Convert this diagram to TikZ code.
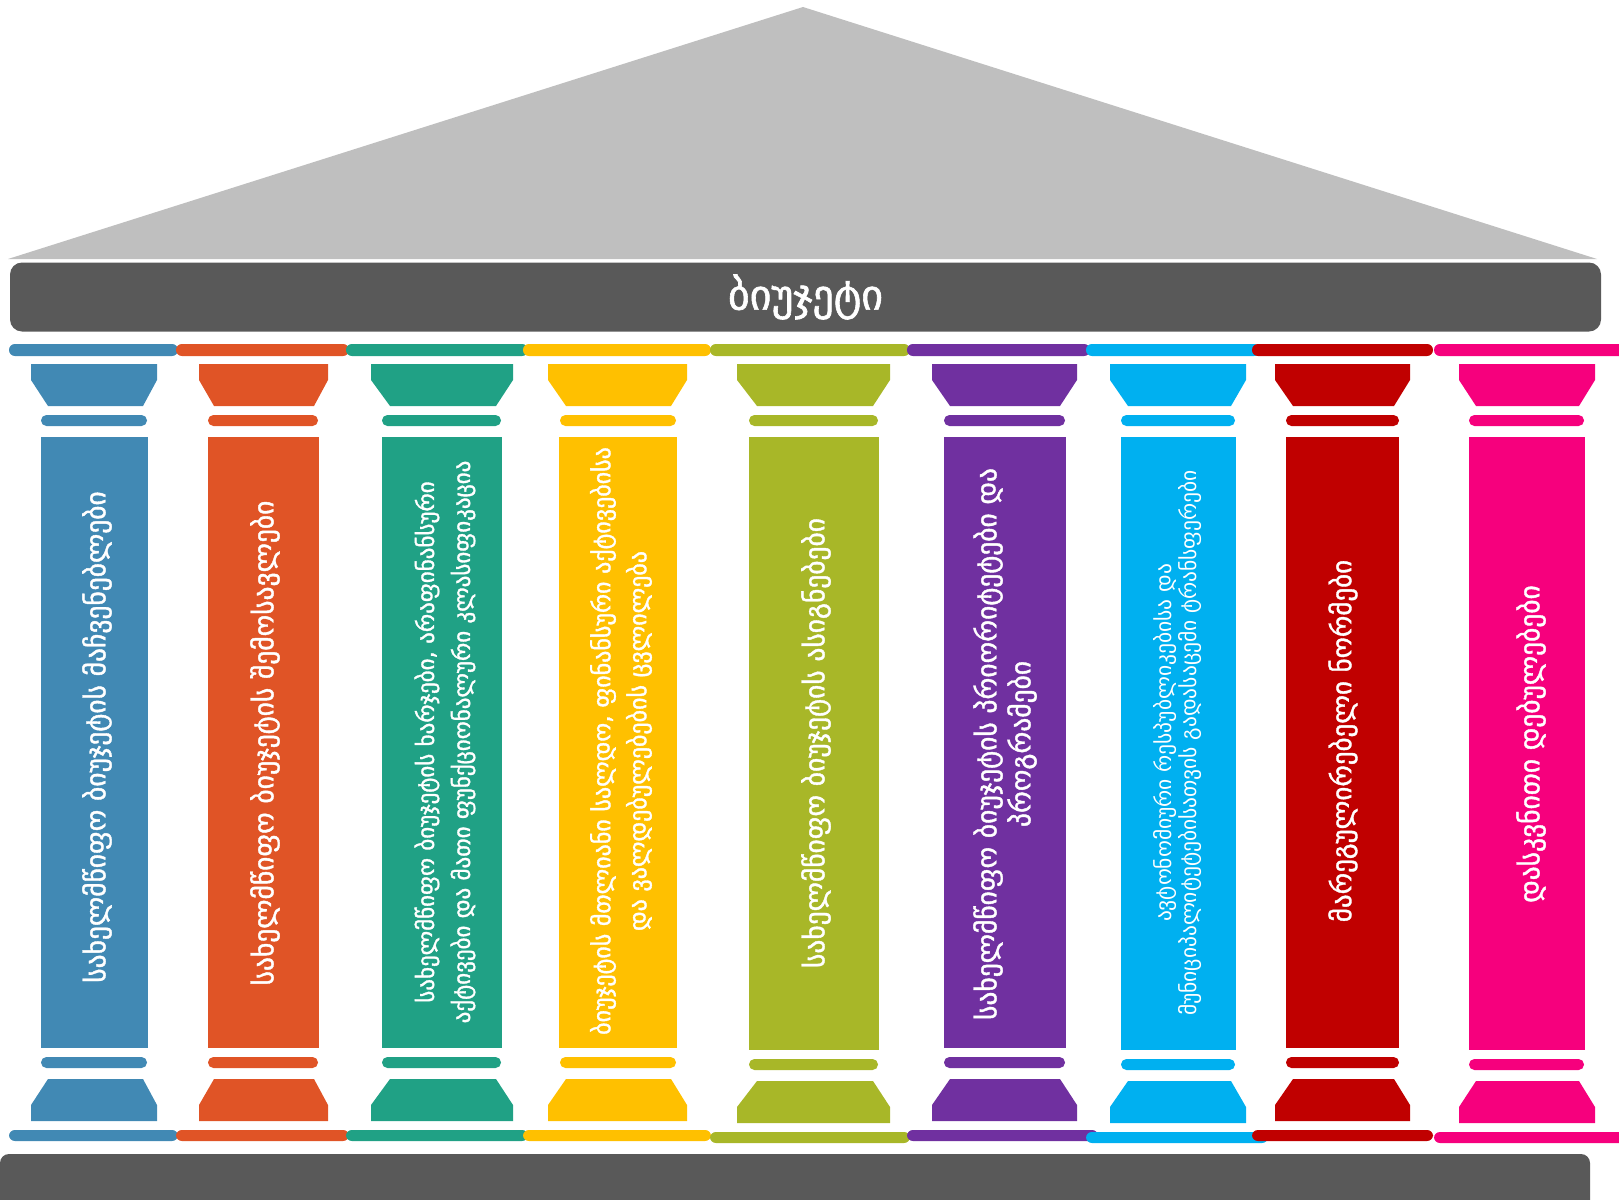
\documentclass[tikz,border=0pt]{standalone}
\usepackage{fontspec}
\setmainfont{DejaVu Sans}
\newfontfamily\geomed[FakeBold=1.4]{DejaVu Sans}
\definecolor{pilblue}{RGB}{65, 137, 180}
\definecolor{pilorange}{RGB}{224, 84, 38}
\definecolor{pilgreen}{RGB}{32, 161, 133}
\definecolor{pilyellow}{RGB}{255, 192, 0}
\definecolor{pilolive}{RGB}{168, 183, 40}
\definecolor{pilpurple}{RGB}{112, 48, 160}
\definecolor{pilcyan}{RGB}{0, 176, 240}
\definecolor{pilred}{RGB}{192, 0, 0}
\definecolor{pilpink}{RGB}{246, 0, 125}
\definecolor{roofgrey}{RGB}{191, 191, 191}
\definecolor{beamgrey}{RGB}{89, 89, 89}
\usepackage{tikz}

\begin{document}
\begin{tikzpicture}[x=1pt, y=-1pt,
    band/.style={rounded corners=5.9pt},
    ring/.style={rounded corners=5.4pt},
    shaft/.style={inner sep=0pt, outer sep=0pt},
    caption/.style={text=white, rotate=90, align=center, inner sep=0pt}]
  \useasboundingbox (0,0) rectangle (1619,1199);

  % Roof and beam
  \fill[roofgrey] (8,259) -- (803,7) -- (1597,259) -- cycle;
  \node[fill=beamgrey, rounded corners=12pt, minimum width=1591pt, minimum height=69pt, inner sep=0pt,
        text=white, font=\geomed\fontsize{42}{46}\selectfont] (budget) at (805.5,297) {ბიუჯეტი};

  % Column 1
  \fill[pilblue, band] (9,344) rectangle (178,356);
  \fill[pilblue] (31,364) -- (157,364) -- (157,380) -- (143,406) -- (48,406) -- (31,380) -- cycle;
  \fill[pilblue, ring] (41,415) rectangle (147,426);
  \node[shaft, fill=pilblue, minimum width=107pt, minimum height=611pt] (indicators) at (94.5,742.5) {};
  \fill[pilblue, ring] (41,1057) rectangle (147,1068);
  \fill[pilblue] (48,1079) -- (143,1079) -- (157,1105) -- (157,1121) -- (31,1121) -- (31,1105) -- cycle;
  \fill[pilblue, band] (9,1130) rectangle (178,1141);
  \node[caption, font=\geomed\fontsize{27.5}{32}\selectfont] (indicatorstext) at (97,737)
    {სახელმწიფო ბიუჯეტის მაჩვენებლები};

  % Column 2
  \fill[pilorange, band] (176,344) rectangle (349,356);
  \fill[pilorange] (199,364) -- (328,364) -- (328,380) -- (314,406) -- (214,406) -- (199,380) -- cycle;
  \fill[pilorange, ring] (208,415) rectangle (318,426);
  \node[shaft, fill=pilorange, minimum width=111pt, minimum height=611pt] (revenues) at (263.5,742.5) {};
  \fill[pilorange, ring] (208,1057) rectangle (318,1068);
  \fill[pilorange] (214,1079) -- (314,1079) -- (328,1105) -- (328,1121) -- (199,1121) -- (199,1105) -- cycle;
  \fill[pilorange, band] (176,1130) rectangle (349,1141);
  \node[caption, font=\geomed\fontsize{27.5}{32}\selectfont] (revenuestext) at (265,743)
    {სახელმწიფო ბიუჯეტის შემოსავლები};

  % Column 3
  \fill[pilgreen, band] (346,344) rectangle (528,356);
  \fill[pilgreen] (371,364) -- (513,364) -- (513,380) -- (496,406) -- (390,406) -- (371,380) -- cycle;
  \fill[pilgreen, ring] (382,415) rectangle (501,426);
  \node[shaft, fill=pilgreen, minimum width=120pt, minimum height=611pt] (expenses) at (442,742.5) {};
  \fill[pilgreen, ring] (382,1057) rectangle (501,1068);
  \fill[pilgreen] (390,1079) -- (496,1079) -- (513,1105) -- (513,1121) -- (371,1121) -- (371,1105) -- cycle;
  \fill[pilgreen, band] (346,1130) rectangle (528,1141);
  \node[caption, font=\geomed\fontsize{23}{36}\selectfont] (expensestext) at (445,742)
    {სახელმწიფო ბიუჯეტის ხარჯები, არაფინანსური\\
     აქტივები და მათი ფუნქციონალური კლასიფიკაცია};

  % Column 4
  \fill[pilyellow, band] (523,344) rectangle (711,356);
  \fill[pilyellow] (548,364) -- (687,364) -- (687,380) -- (671,406) -- (566,406) -- (548,380) -- cycle;
  \fill[pilyellow, ring] (560,415) rectangle (676,426);
  \node[shaft, fill=pilyellow, minimum width=118pt, minimum height=611pt] (balance) at (618,742.5) {};
  \fill[pilyellow, ring] (560,1057) rectangle (676,1068);
  \fill[pilyellow] (566,1079) -- (671,1079) -- (687,1105) -- (687,1121) -- (548,1121) -- (548,1105) -- cycle;
  \fill[pilyellow, band] (523,1130) rectangle (711,1141);
  \node[caption, font=\geomed\fontsize{24}{36}\selectfont] (balancetext) at (621,741)
    {ბიუჯეტის მთლიანი სალდო, ფინანსური აქტივებისა\\
     და ვალდებულებების ცვლილება};

  % Column 5
  \fill[pilolive, band] (710,344) rectangle (910,356);
  \fill[pilolive] (737,364) -- (890,364) -- (890,380) -- (873,406) -- (757,406) -- (737,380) -- cycle;
  \fill[pilolive, ring] (749,415) rectangle (878,426);
  \node[shaft, fill=pilolive, minimum width=130pt, minimum height=613pt] (appropriations) at (814,743.5) {};
  \fill[pilolive, ring] (749,1059) rectangle (878,1070);
  \fill[pilolive] (757,1081) -- (873,1081) -- (890,1107) -- (890,1123) -- (737,1123) -- (737,1107) -- cycle;
  \fill[pilolive, band] (710,1132) rectangle (910,1143);
  \node[caption, font=\geomed\fontsize{27.5}{32}\selectfont] (appropriationstext) at (816,743)
    {სახელმწიფო ბიუჯეტის ასიგნებები};

  % Column 6
  \fill[pilpurple, band] (907,344) rectangle (1090,356);
  \fill[pilpurple] (932,364) -- (1077,364) -- (1077,380) -- (1060,406) -- (950,406) -- (932,380) -- cycle;
  \fill[pilpurple, ring] (944,415) rectangle (1065,426);
  \node[shaft, fill=pilpurple, minimum width=122pt, minimum height=611pt] (programmes) at (1005,742.5) {};
  \fill[pilpurple, ring] (944,1057) rectangle (1065,1068);
  \fill[pilpurple] (950,1079) -- (1060,1079) -- (1077,1105) -- (1077,1121) -- (932,1121) -- (932,1105) -- cycle;
  \fill[pilpurple, band] (907,1130) rectangle (1098,1141);
  \node[caption, font=\geomed\fontsize{27.5}{34}\selectfont] (programmestext) at (1005,744)
    {სახელმწიფო ბიუჯეტის პრიორიტეტები და\\ პროგრამები};

  % Column 7
  \fill[pilcyan, band] (1086,344) rectangle (1260,356);
  \fill[pilcyan] (1110,364) -- (1246,364) -- (1246,380) -- (1231,406) -- (1128,406) -- (1110,380) -- cycle;
  \fill[pilcyan, ring] (1121,415) rectangle (1235,426);
  \node[shaft, fill=pilcyan, minimum width=115pt, minimum height=613pt] (transfers) at (1178.5,743.5) {};
  \fill[pilcyan, ring] (1121,1059) rectangle (1235,1070);
  \fill[pilcyan] (1128,1081) -- (1231,1081) -- (1246,1107) -- (1246,1123) -- (1110,1123) -- (1110,1107) -- cycle;
  \fill[pilcyan, band] (1086,1132) rectangle (1268,1143);
  \node[caption, font=\fontsize{21.5}{25}\selectfont] (transferstext) at (1178,743)
    {ავტონომიური რესპუბლიკებისა და\\
     მუნიციპალიტეტებისათვის გადასაცემი ტრანსფერები};

  % Column 8
  \fill[pilred, band] (1252,344) rectangle (1433,356);
  \fill[pilred] (1275,364) -- (1410,364) -- (1410,380) -- (1394,406) -- (1293,406) -- (1275,380) -- cycle;
  \fill[pilred, ring] (1286,415) rectangle (1399,426);
  \node[shaft, fill=pilred, minimum width=113pt, minimum height=611pt] (norms) at (1342.5,742.5) {};
  \fill[pilred, ring] (1286,1057) rectangle (1399,1068);
  \fill[pilred] (1293,1079) -- (1394,1079) -- (1410,1105) -- (1410,1121) -- (1275,1121) -- (1275,1105) -- cycle;
  \fill[pilred, band] (1252,1130) rectangle (1433,1141);
  \node[caption, font=\geomed\fontsize{27}{31}\selectfont] (normstext) at (1343,741)
    {მარეგულირებელი ნორმები};

  % Column 9
  \fill[pilpink, band] (1434,344) rectangle (1625,356);
  \fill[pilpink] (1459,364) -- (1595,364) -- (1595,380) -- (1579,406) -- (1476,406) -- (1459,380) -- cycle;
  \fill[pilpink, ring] (1469,415) rectangle (1584,426);
  \node[shaft, fill=pilpink, minimum width=116pt, minimum height=613pt] (provisions) at (1527,743.5) {};
  \fill[pilpink, ring] (1469,1059) rectangle (1584,1070);
  \fill[pilpink] (1476,1081) -- (1579,1081) -- (1595,1107) -- (1595,1123) -- (1459,1123) -- (1459,1107) -- cycle;
  \fill[pilpink, band] (1434,1132) rectangle (1625,1143);
  \node[caption, font=\geomed\fontsize{27.5}{32}\selectfont] (provisionstext) at (1531,744)
    {დასკვნითი დებულებები};

  % Plinth
  \fill[beamgrey, rounded corners=9pt] (0,1154) rectangle (1590,1230);
\end{tikzpicture}
\end{document}
